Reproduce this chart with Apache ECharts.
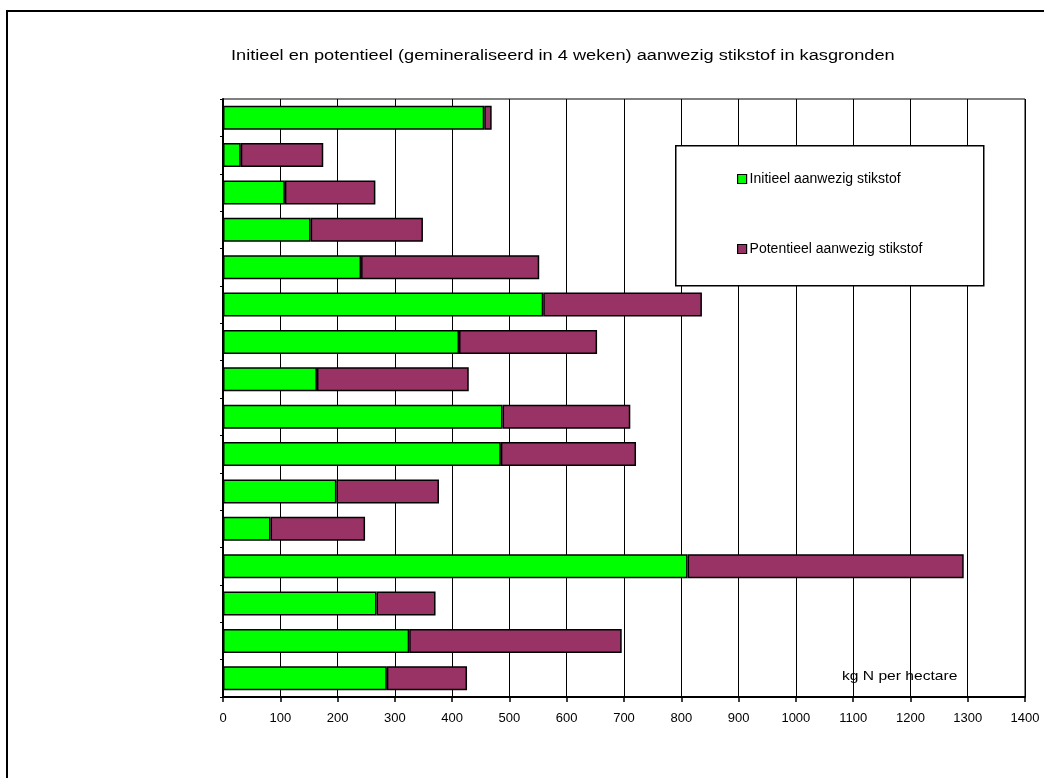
<!DOCTYPE html>
<html>
<head>
<meta charset="utf-8">
<script src="https://cdn.jsdelivr.net/npm/echarts@6/dist/echarts.min.js"></script>
<style>html,body{margin:0;padding:0;background:#fff}#c{width:1044px;height:778px}</style>
</head>
<body>
<div id="c"></div>
<script>
const categories = ['1','2','3','4','5','6','7','8','9','10','11','12','13','14','15','16'];
const initieel = [456, 31, 108, 153, 241, 559, 412, 164, 488, 485, 198, 83, 811, 268, 325, 286];
const potentieel = [13, 144, 158, 196, 311, 277, 241, 265, 223, 236, 179, 165, 482, 103, 371, 140];
const xTicks = [0,100,200,300,400,500,600,700,800,900,1000,1100,1200,1300,1400];
const titleText = 'Initieel en potentieel (gemineraliseerd in 4 weken) aanwezig stikstof in kasgronden';
const unitText = 'kg N per hectare';
const seriesNames = ['Initieel aanwezig stikstof', 'Potentieel aanwezig stikstof'];

const FONT = '"Liberation Sans", Arial, sans-serif';
const chart = echarts.init(document.getElementById('c'), null, {renderer: 'canvas'});
chart.setOption({
  animation: false,
  backgroundColor: '#fff',
  textStyle: {fontFamily: FONT},
  grid: {left: 223, right: 19, top: 99, bottom: 81, show: true, borderColor: '#000', borderWidth: 1},
  xAxis: {
    type: 'value', min: xTicks[0], max: xTicks[xTicks.length-1], interval: 100,
    axisLine: {show: true, lineStyle: {color: '#000', width: 2}},
    axisTick: {show: true, length: 5, lineStyle: {color: '#000', width: 1.5}},
    axisLabel: {color: '#000', fontSize: 13, fontFamily: FONT, margin: 15,
      formatter: v => String(v)},
    splitLine: {show: true, lineStyle: {color: '#000', width: 1}}
  },
  yAxis: {
    type: 'category', data: categories, inverse: true,
    axisLine: {show: true, lineStyle: {color: '#000', width: 2}},
    axisTick: {show: true, length: 3, lineStyle: {color: '#000'}},
    axisLabel: {show: false},
    splitLine: {show: false}
  },
  legend: {
    orient: 'vertical', left: 732, top: 167, itemGap: 56, z: 20,
    itemWidth: 9, itemHeight: 9, icon: 'rect',
    itemStyle: {borderColor: '#000', borderWidth: 1.2},
    textStyle: {fontFamily: FONT, fontSize: 14, color: '#000', padding: [0,0,0,-2]},
    data: seriesNames
  },
  graphic: [
    {type: 'rect', left: 675, top: 145, z: 3, shape: {width: 308, height: 140},
     style: {fill: '#fff', stroke: '#000', lineWidth: 1.5}},
    {type: 'text', x: 231, y: 49, z: 10, scaleX: 1.3,
     style: {text: titleText, font: '14px ' + FONT, fill: '#000'}},
    {type: 'text', x: 842, y: 670, z: 10, scaleX: 1.2,
     style: {text: unitText, font: '13px ' + FONT, fill: '#000'}},
    {type: 'line', z: 10, shape: {x1: 6, y1: 11, x2: 1044, y2: 11}, style: {stroke: '#000', lineWidth: 2}},
    {type: 'line', z: 10, shape: {x1: 7, y1: 11, x2: 7, y2: 778}, style: {stroke: '#000', lineWidth: 2}}
  ],
  series: [
    {name: seriesNames[0], type: 'bar', stack: 'n', data: initieel, barWidth: 24,
     itemStyle: {color: '#00ff00', borderColor: '#000', borderWidth: 1.5}},
    {name: seriesNames[1], type: 'bar', stack: 'n', data: potentieel, barWidth: 24,
     itemStyle: {color: '#993366', borderColor: '#000', borderWidth: 1.5}}
  ]
});
</script>
</body>
</html>
